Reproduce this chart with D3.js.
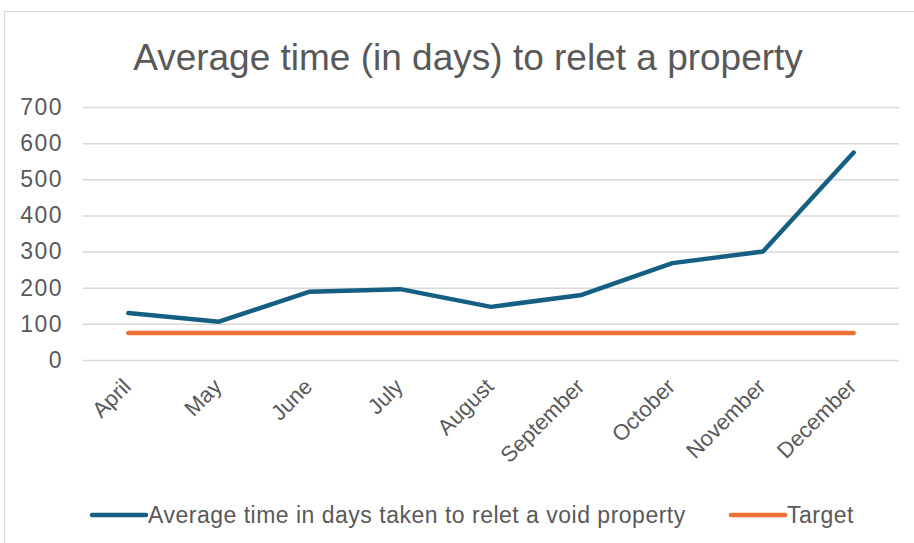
<!DOCTYPE html>
<html lang="en">
<head>
  <meta charset="UTF-8">
  <title>Average time to relet</title>
  <script src="https://cdn.jsdelivr.net/npm/d3@7"></script>
  <style>
    body { margin: 0; background: #fff; }
    text { font-family: "Liberation Sans", Arial, sans-serif; }
  </style>
</head>
<body>
<svg></svg>
<script>
  const months = ["April", "May", "June", "July", "August", "September", "October", "November", "December"]
  const avgDays = [130, 106, 189, 196, 147, 180, 268, 300, 574]
  const target = [75, 75, 75, 75, 75, 75, 75, 75, 75]
  const yTicks = [0, 100, 200, 300, 400, 500, 600, 700]

  const width = 914, height = 543
  const margin = ({top: 107, right: 15, bottom: 183, left: 83})
  const font = '"Liberation Sans", Arial, sans-serif'

  const svg = d3.select('svg')
      .attr('width', width)
      .attr('height', height)

  // chart border
  svg.append('rect')
      .attr('x', 4.5).attr('y', 11.5)
      .attr('width', 930).attr('height', 560)
      .attr('fill', 'none')
      .attr('stroke', '#d9d9d9')

  svg.append('text')
      .attr('x', 468).attr('y', 70)
      .attr('text-anchor', 'middle')
      .attr('font-size', 37)
      .attr('fill', '#595959')
      .text('Average time (in days) to relet a property')

  const x = d3.scaleBand()
      .domain(months)
      .range([margin.left, width - margin.right])

  const y = d3.scaleLinear()
      .domain([0, 700])
      .range([height - margin.bottom, margin.top])

  const cx = d => x(d) + x.bandwidth() / 2

  // gridlines + y labels
  svg.append('g')
      .attr('transform', `translate(${margin.left},0)`)
      .call(d3.axisLeft(y).tickValues(yTicks).tickSize(-(width - margin.left - margin.right)).tickPadding(20))
      .call(g => g.select('.domain').remove())
      .call(g => g.selectAll('.tick line').attr('stroke', '#d9d9d9').attr('stroke-width', 1.5))
      .call(g => g.selectAll('.tick text')
          .attr('font-size', 23)
          .attr('letter-spacing', 1.5)
          .attr('fill', '#595959')
          .style('font-family', font))

  // x labels
  svg.append('g')
      .attr('transform', `translate(0,${y(0)})`)
      .call(d3.axisBottom(x).tickSize(0))
      .call(g => g.select('.domain').remove())
      .call(g => g.selectAll('.tick text')
          .attr('font-size', 22)
          .attr('fill', '#595959')
          .style('font-family', font)
          .attr('text-anchor', 'end')
          .attr('y', 0)
          .attr('dy', 0)
          .attr('transform', 'translate(4,28) rotate(-45)'))

  const line = d3.line()
      .x((d, i) => cx(months[i]))
      .y(d => y(d))

  svg.append('path')
      .datum(target)
      .attr('fill', 'none')
      .attr('stroke', '#E97132')
      .attr('stroke-width', 4.5)
      .attr('stroke-linecap', 'round')
      .attr('stroke-linejoin', 'round')
      .attr('d', line)

  svg.append('path')
      .datum(avgDays)
      .attr('fill', 'none')
      .attr('stroke', '#156082')
      .attr('stroke-width', 4.5)
      .attr('stroke-linecap', 'round')
      .attr('stroke-linejoin', 'round')
      .attr('d', line)

  // legend
  const legend = [
    {label: 'Average time in days taken to relet a void property', color: '#156082', x: 90},
    {label: 'Target', color: '#E97132', x: 729}
  ]
  const lg = svg.append('g').selectAll('g')
      .data(legend)
      .join('g')
      .attr('transform', d => `translate(${d.x},515)`)
  lg.append('line')
      .attr('x1', 2).attr('x2', 56)
      .attr('stroke', d => d.color)
      .attr('stroke-width', 4.5)
      .attr('stroke-linecap', 'round')
  lg.append('text')
      .attr('x', 58).attr('y', 8)
      .attr('font-size', 23)
      .attr('letter-spacing', 0.5)
      .attr('fill', '#595959')
      .text(d => d.label)
</script>
</body>
</html>
